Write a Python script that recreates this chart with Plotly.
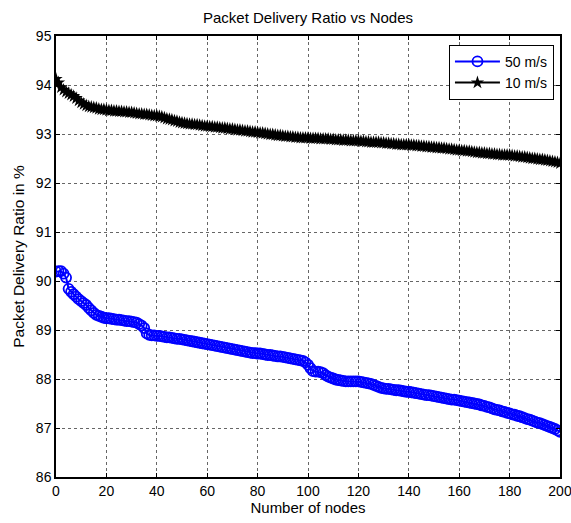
import plotly.graph_objects as go

nodes = list(range(0, 201))

pdr_50 = [
    90.19, 90.20, 90.20, 90.15, 90.07, 89.84, 89.78, 89.73, 89.68, 89.63,
    89.59, 89.55, 89.51, 89.45, 89.40, 89.35, 89.31, 89.29, 89.27, 89.25,
    89.24, 89.24, 89.23, 89.22, 89.21, 89.21, 89.20, 89.19, 89.18, 89.18,
    89.17, 89.16, 89.15, 89.12, 89.09, 89.04, 88.93, 88.90, 88.89, 88.89,
    88.88, 88.88, 88.87, 88.86, 88.85, 88.85, 88.84, 88.83, 88.82, 88.82,
    88.81, 88.80, 88.79, 88.78, 88.77, 88.76, 88.75, 88.74, 88.73, 88.72,
    88.71, 88.70, 88.69, 88.68, 88.67, 88.66, 88.65, 88.64, 88.63, 88.62,
    88.61, 88.60, 88.59, 88.58, 88.57, 88.56, 88.55, 88.54, 88.53, 88.53,
    88.52, 88.52, 88.51, 88.50, 88.49, 88.49, 88.48, 88.47, 88.46, 88.46,
    88.45, 88.44, 88.43, 88.42, 88.41, 88.40, 88.39, 88.38, 88.37, 88.34,
    88.29, 88.22, 88.16, 88.15, 88.15, 88.14, 88.12, 88.08, 88.05, 88.03,
    88.01, 87.99, 87.98, 87.97, 87.96, 87.95, 87.95, 87.95, 87.95, 87.95,
    87.95, 87.94, 87.93, 87.92, 87.91, 87.90, 87.88, 87.86, 87.84, 87.82,
    87.81, 87.80, 87.80, 87.79, 87.78, 87.77, 87.77, 87.76, 87.75, 87.74,
    87.74, 87.73, 87.72, 87.71, 87.70, 87.69, 87.68, 87.67, 87.67, 87.66,
    87.65, 87.64, 87.63, 87.62, 87.61, 87.60, 87.59, 87.58, 87.58, 87.57,
    87.56, 87.55, 87.54, 87.53, 87.52, 87.51, 87.50, 87.49, 87.48, 87.46,
    87.45, 87.43, 87.42, 87.40, 87.38, 87.37, 87.36, 87.34, 87.33, 87.31,
    87.30, 87.28, 87.27, 87.25, 87.24, 87.22, 87.20, 87.18, 87.17, 87.15,
    87.13, 87.11, 87.10, 87.08, 87.06, 87.04, 87.02, 87.00, 86.98, 86.95,
    86.92,
]

pdr_10 = [
    94.12, 94.05, 93.95, 93.90, 93.86, 93.83, 93.80, 93.77, 93.73, 93.68,
    93.64, 93.61, 93.58, 93.56, 93.55, 93.54, 93.53, 93.51, 93.50, 93.50,
    93.49, 93.48, 93.48, 93.47, 93.47, 93.46, 93.46, 93.45, 93.45, 93.44,
    93.44, 93.43, 93.42, 93.41, 93.41, 93.40, 93.40, 93.39, 93.38, 93.37,
    93.37, 93.36, 93.35, 93.33, 93.31, 93.30, 93.29, 93.27, 93.26, 93.24,
    93.23, 93.22, 93.21, 93.20, 93.20, 93.19, 93.19, 93.18, 93.17, 93.16,
    93.16, 93.15, 93.15, 93.14, 93.14, 93.13, 93.12, 93.12, 93.11, 93.10,
    93.10, 93.09, 93.08, 93.08, 93.07, 93.06, 93.06, 93.05, 93.04, 93.04,
    93.03, 93.02, 93.02, 93.01, 93.00, 92.99, 92.99, 92.98, 92.97, 92.97,
    92.96, 92.95, 92.95, 92.94, 92.94, 92.93, 92.93, 92.92, 92.92, 92.92,
    92.92, 92.91, 92.91, 92.91, 92.91, 92.90, 92.90, 92.90, 92.90, 92.89,
    92.89, 92.88, 92.88, 92.88, 92.87, 92.87, 92.87, 92.86, 92.86, 92.86,
    92.86, 92.85, 92.85, 92.84, 92.84, 92.83, 92.83, 92.83, 92.83, 92.82,
    92.82, 92.81, 92.81, 92.80, 92.80, 92.79, 92.79, 92.78, 92.78, 92.78,
    92.78, 92.77, 92.77, 92.76, 92.76, 92.75, 92.75, 92.74, 92.74, 92.73,
    92.73, 92.72, 92.72, 92.71, 92.71, 92.70, 92.69, 92.69, 92.68, 92.67,
    92.67, 92.66, 92.66, 92.65, 92.65, 92.64, 92.63, 92.62, 92.62, 92.61,
    92.61, 92.60, 92.60, 92.59, 92.59, 92.58, 92.58, 92.57, 92.57, 92.57,
    92.57, 92.56, 92.55, 92.55, 92.54, 92.53, 92.53, 92.52, 92.51, 92.50,
    92.50, 92.49, 92.48, 92.48, 92.47, 92.46, 92.45, 92.44, 92.43, 92.42,
    92.40,
]

x_ticks = list(range(0, 201, 20))
y_ticks = list(range(86, 96, 1))

font_family = "Liberation Sans, Arial, sans-serif"

fig = go.Figure()
fig.add_trace(go.Scatter(
    x=nodes, y=pdr_50, name="50 m/s", mode="lines+markers",
    line=dict(color="#0000FF", width=2),
    marker=dict(symbol="circle-open", size=10, color="#0000FF", line=dict(width=1.8, color="#0000FF")),
))
fig.add_trace(go.Scatter(
    x=nodes, y=pdr_10, name="10 m/s", mode="lines+markers",
    line=dict(color="#000000", width=2),
    marker=dict(symbol="star", size=10, color="#000000"),
))

axis_common = dict(
    showline=True, linecolor="black", linewidth=1.5, mirror="ticks",
    ticks="inside", ticklen=4, tickcolor="black", automargin=False,
    ticklabeloverflow="allow",
    showgrid=True, gridcolor="#666666", griddash="dot", gridwidth=1,
    zeroline=False, tickfont=dict(size=14, color="black", family=font_family),
)

fig.update_layout(
    width=571, height=523, autosize=False,
    margin=dict(l=56, r=11, t=36, b=46, autoexpand=False),
    paper_bgcolor="white", plot_bgcolor="white",
    font=dict(family=font_family, color="black", size=14),
    title=dict(text="Packet Delivery Ratio vs Nodes", x=(56 + 560) / 2 / 571, xanchor="center",
               y=1 - 18 / 523, yanchor="middle", font=dict(size=15)),
    xaxis=dict(range=[0, 200], tickvals=x_ticks, title=dict(text="Number of nodes", standoff=2, font=dict(size=15)), **axis_common),
    yaxis=dict(range=[86, 95], tickvals=y_ticks, title=dict(text="Packet Delivery Ratio in %", standoff=7, font=dict(size=15.5)), **axis_common),
    legend=dict(x=0.988, y=0.98, xanchor="right", yanchor="top",
                bgcolor="white", bordercolor="black", borderwidth=1,
                font=dict(size=14), itemwidth=45, tracegroupgap=0),
    showlegend=True,
)

fig.write_html("out.html")
